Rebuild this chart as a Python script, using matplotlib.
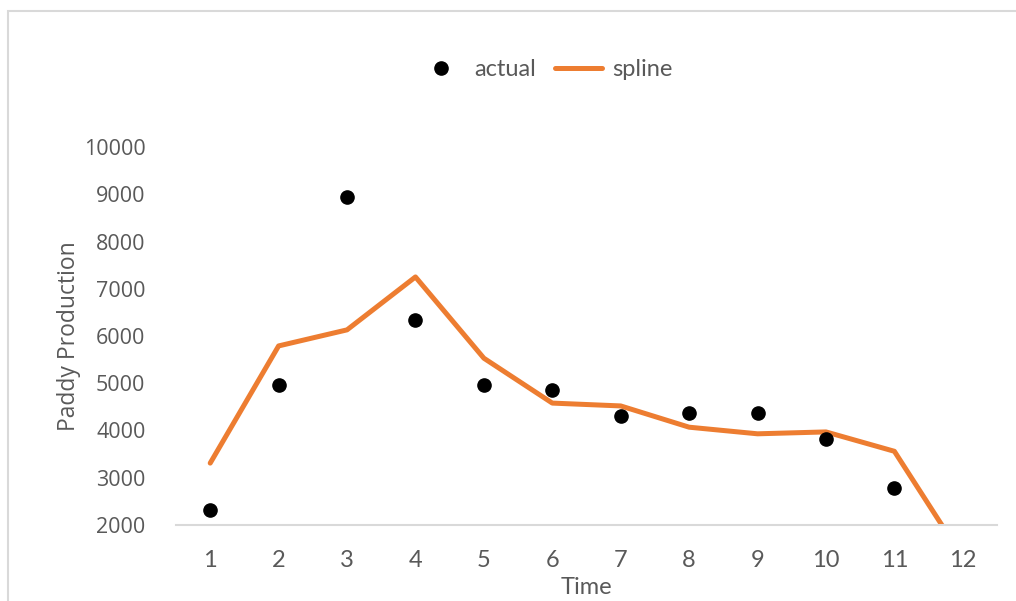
import matplotlib.pyplot as plt
from matplotlib.patches import Rectangle

# paddy production over time: observed values and fitted spline
time = [1, 2, 3, 4, 5, 6, 7, 8, 9, 10, 11, 12]
actual = [2320, 4960, 8940, 6340, 4960, 4860, 4310, 4370, 4370, 3820, 2790]
spline = [3310, 5790, 6130, 7250, 5530, 4580, 4520, 4070, 3930, 3970, 3560, 1310]
yticks = [2000, 3000, 4000, 5000, 6000, 7000, 8000, 9000, 10000]

grey = "#595959"
orange = "#ED7D31"

fig = plt.figure(figsize=(10.16, 6.01), dpi=100)
ax = fig.add_axes([176 / 1016, 1 - 525 / 601, 821 / 1016, 378 / 601])

# chart area outline
fig.patches.append(Rectangle((8 / 1016, -0.1), 1.2, 1 - 11 / 601 + 0.1,
                             transform=fig.transFigure, fill=False,
                             edgecolor="#d9d9d9", linewidth=1.5))

ax.plot(time[:len(actual)], actual, "o", color="black", markersize=9.5,
        label="actual", zorder=3)
ax.plot(time, spline, "-", color=orange, linewidth=3.6, label="spline",
        solid_capstyle="round", zorder=2)

ax.set_xlim(0.5, 12.5)
ax.set_ylim(2000, 10000)
ax.set_xticks(time)
ax.set_yticks(yticks)
ax.set_yticklabels([str(v) for v in yticks], fontfamily="Open Sans",
                   fontsize=15.5, color=grey)
ax.set_xticklabels([str(t) for t in time], fontfamily="Lato",
                   fontsize=17, color=grey)
ax.tick_params(axis="both", length=0)
ax.tick_params(axis="x", pad=18)
ax.tick_params(axis="y", pad=22)

for side in ["top", "right", "left"]:
    ax.spines[side].set_visible(False)
ax.spines["bottom"].set_color("#d9d9d9")
ax.spines["bottom"].set_linewidth(1.5)

ax.set_xlabel("Time", fontfamily="Lato", fontsize=17, color=grey, labelpad=4)
ax.set_ylabel("Paddy Production", fontfamily="Open Sans", fontsize=16.5,
              color=grey, labelpad=2)

leg = ax.legend(loc="center", bbox_to_anchor=(545 / 1016, 1 - 70 / 601),
                bbox_transform=fig.transFigure, ncol=2, frameon=False,
                prop={"family": "Lato", "size": 17}, handlelength=2.0,
                columnspacing=0.8, handletextpad=0.4, borderpad=0)
for t in leg.get_texts():
    t.set_color(grey)

fig.savefig("out.png", dpi=100)
